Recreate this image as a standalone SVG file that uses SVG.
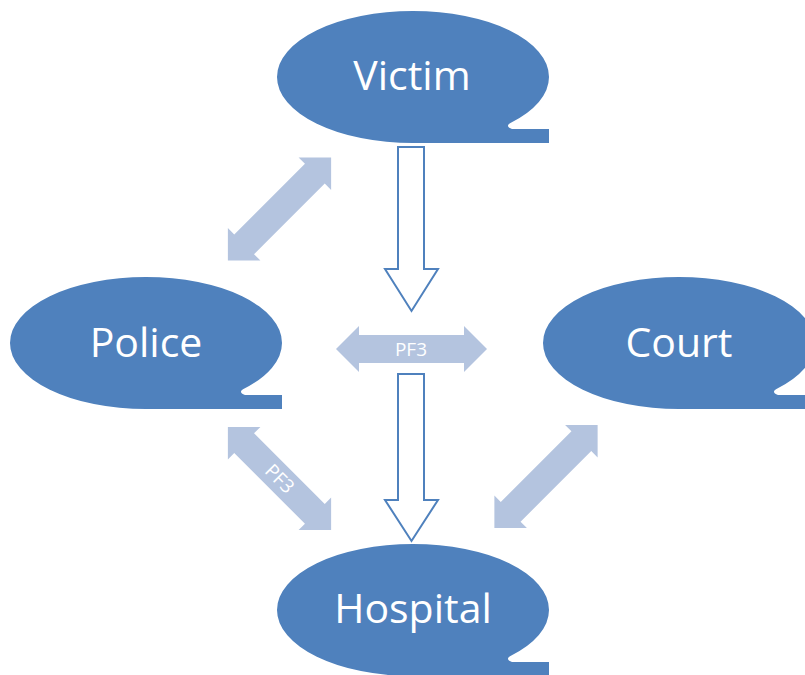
<svg xmlns="http://www.w3.org/2000/svg" width="805" height="675" viewBox="0 0 805 675">
  <style>
    .bubble { fill: #4F81BD; }
    .label { fill: #FFFFFF; font-family: "Open Sans", "Liberation Sans", sans-serif; font-size: 41px; text-anchor: middle; }
    .dbl { fill: #B4C4DF; }
    .hollow { fill: #FFFFFF; stroke: #4F81BD; stroke-width: 2; stroke-linejoin: miter; }
    .small { fill: #FFFFFF; font-family: "Open Sans", "Liberation Sans", sans-serif; font-size: 19px; text-anchor: middle; }
  </style>
  <defs>
    <path id="callout" d="M -136,0 A 136 66 0 0 1 136,0 A 136 66 0 0 1 97,46.2 Q 92,49.5 99,52 L 136,52 L 136,66 L 0,66 A 136 66 0 0 1 -136,0 Z"/>
    <polygon id="dblarrow" points="-73,0 -50,-23 -50,-14 50,-14 50,-23 73,0 50,23 50,14 -50,14 -50,23"/>
  </defs>
  <rect width="805" height="675" fill="#FFFFFF"/>

  <g id="connectors">
    <g id="victim-police">
      <use href="#dblarrow" class="dbl" transform="translate(279.5,209) rotate(-45)"/>
    </g>
    <g id="police-hospital">
      <use href="#dblarrow" class="dbl" transform="translate(279.5,478.5) rotate(45)"/>
      <text class="small" transform="translate(280,478.5) rotate(45)" y="7">PF3</text>
    </g>
    <g id="court-hospital">
      <use href="#dblarrow" class="dbl" transform="translate(546,476.5) rotate(-45)"/>
    </g>
    <g id="center-pf3">
      <polygon class="dbl" points="336,349 359,326 359,335 464,335 464,326 487,349 464,372 464,363 359,363 359,372"/>
      <text class="small" x="411" y="356">PF3</text>
    </g>
    <g id="victim-down">
      <polygon class="hollow" points="398,147 424,147 424,269 438,269 411.5,311 385,269 398,269"/>
    </g>
    <g id="center-down">
      <polygon class="hollow" points="398,374 424,374 424,500 438,500 411.5,541 385,500 398,500"/>
    </g>
  </g>

  <g id="victim">
    <use href="#callout" class="bubble" transform="translate(413,77)"/>
    <text class="label" x="412" y="90">Victim</text>
  </g>
  <g id="police">
    <use href="#callout" class="bubble" transform="translate(146,343)"/>
    <text class="label" x="146" y="357">Police</text>
  </g>
  <g id="court">
    <use href="#callout" class="bubble" transform="translate(679,343)"/>
    <text class="label" x="679" y="357">Court</text>
  </g>
  <g id="hospital">
    <use href="#callout" class="bubble" transform="translate(413,610)"/>
    <text class="label" x="413" y="623">Hospital</text>
  </g>
</svg>
